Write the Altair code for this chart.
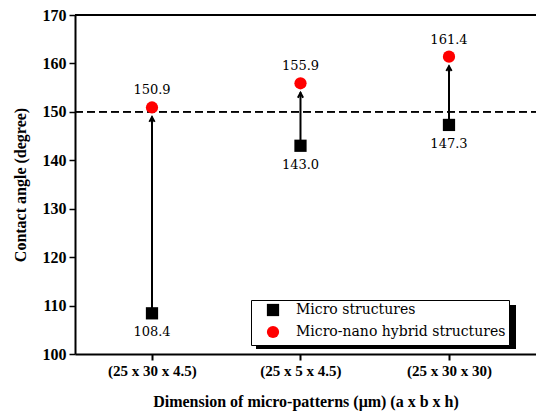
import altair as alt
import pandas as pd

categories = ["(25 x 30 x 4.5)", "(25 x 5 x 4.5)", "(25 x 30 x 30)"]
positions = [1, 2, 3]
micro = [108.4, 143.0, 147.3]
hybrid = [150.9, 155.9, 161.4]
series_names = ["Micro structures", "Micro-nano hybrid structures"]

rows = []
for p, c, m, h in zip(positions, categories, micro, hybrid):
    rows.append({"pos": p, "cat": c, "value": m, "series": series_names[0]})
    rows.append({"pos": p, "cat": c, "value": h, "series": series_names[1]})
long_df = pd.DataFrame(rows)
wide_df = pd.DataFrame({"pos": positions, "cat": categories, "micro": micro, "hybrid": hybrid})

FONT = "'Liberation Serif', 'DejaVu Serif', serif"
FONT2 = "'DejaVu Serif', serif"
label_js = "[" + ",".join("'" + c + "'" for c in categories) + "][datum.value-1]"

xscale = alt.Scale(domain=[0.4815, 3.586], nice=False, zero=False)
yscale = alt.Scale(domain=[100, 170], nice=False, zero=False)

xaxis = alt.Axis(values=positions, labelExpr=label_js, title="Dimension of micro-patterns (μm) (a x b x h)",
                 grid=False, domain=True, domainColor="black", domainWidth=2, tickColor="black",
                 tickWidth=2, tickSize=6, labelFont=FONT, labelFontWeight="bold", labelFontSize=15,
                 labelColor="black", labelPadding=3, titleFont=FONT, titleFontWeight="bold",
                 titleFontSize=16, titleColor="black", titlePadding=15)
yaxis = alt.Axis(values=list(range(100, 171, 5)),
                 labelExpr="datum.value % 10 === 0 ? datum.label : ''",
                 tickSize={"condition": {"test": "datum.value % 10 === 0", "value": 6}, "value": 3},
                 title="Contact angle (degree)", grid=False, domain=True, domainColor="black",
                 domainWidth=2, tickColor="black", tickWidth=1.5, labelFont=FONT, labelFontWeight="bold",
                 labelFontSize=16, labelColor="black", labelPadding=3, titleFont=FONT,
                 titleFontWeight="bold", titleFontSize=16, titleColor="black", titlePadding=14)

base_w = alt.Chart(wide_df)

top_line = base_w.mark_rule(color="black", strokeWidth=2).encode(
    y=alt.datum(170, scale=yscale), x=alt.value(0), x2=alt.value(461))
dash_line = base_w.mark_rule(color="black", strokeWidth=1.2, strokeDash=[8, 4]).encode(
    y=alt.datum(150, scale=yscale), x=alt.value(0), x2=alt.value(461))

shadow = base_w.mark_rect(color="black", opacity=1).encode(
    x=alt.value(181), x2=alt.value(441), y=alt.value(290), y2=alt.value(334))

shafts = base_w.mark_rule(color="black", strokeWidth=2, y2Offset=9).encode(
    x=alt.X("pos:Q", scale=xscale, axis=xaxis),
    y=alt.Y("micro:Q", scale=yscale, axis=yaxis),
    y2="hybrid:Q")

heads = base_w.mark_point(shape="M-0.55,0.5L0,-0.5L0.55,0.5", filled=False, stroke="black",
                          strokeWidth=2, size=90, yOffset=12, opacity=1).encode(
    x=alt.X("pos:Q", scale=xscale), y=alt.Y("hybrid:Q", scale=yscale))

points = alt.Chart(long_df).mark_point(filled=True, opacity=1, size=150).encode(
    x=alt.X("pos:Q", scale=xscale),
    y=alt.Y("value:Q", scale=yscale),
    shape=alt.Shape("series:N", scale=alt.Scale(domain=series_names, range=["square", "circle"]),
                    legend=alt.Legend(title=None)),
    color=alt.Color("series:N", scale=alt.Scale(domain=series_names, range=["black", "#ff0000"]),
                    legend=alt.Legend(title=None)))

lab_h = base_w.mark_text(font=FONT2, fontSize=13, color="black", dy=-17).encode(
    x=alt.X("pos:Q", scale=xscale), y=alt.Y("hybrid:Q", scale=yscale),
    text=alt.Text("hybrid:Q", format=".1f"))
lab_m = base_w.mark_text(font=FONT2, fontSize=13, color="black", dy=19).encode(
    x=alt.X("pos:Q", scale=xscale), y=alt.Y("micro:Q", scale=yscale),
    text=alt.Text("micro:Q", format=".1f"))

chart = alt.layer(top_line, dash_line, shadow, shafts, heads, points, lab_h, lab_m).properties(
    width=461, height=339,
    padding={"left": 67, "top": 7, "right": 0, "bottom": 60},
    autosize=alt.AutoSizeParams(type="none"),
).configure_view(stroke=None).configure_legend(
    orient="none", legendX=176, legendY=285, fillColor="white", strokeColor="black",
    padding=3, labelFont=FONT2, labelFontSize=14, labelColor="black", symbolSize=150,
    symbolOpacity=1, rowPadding=2, labelOffset=16, symbolOffset=12, offset=0, labelLimit=0
)

chart.save("out.html", embed_options={"renderer": "svg", "actions": False})
